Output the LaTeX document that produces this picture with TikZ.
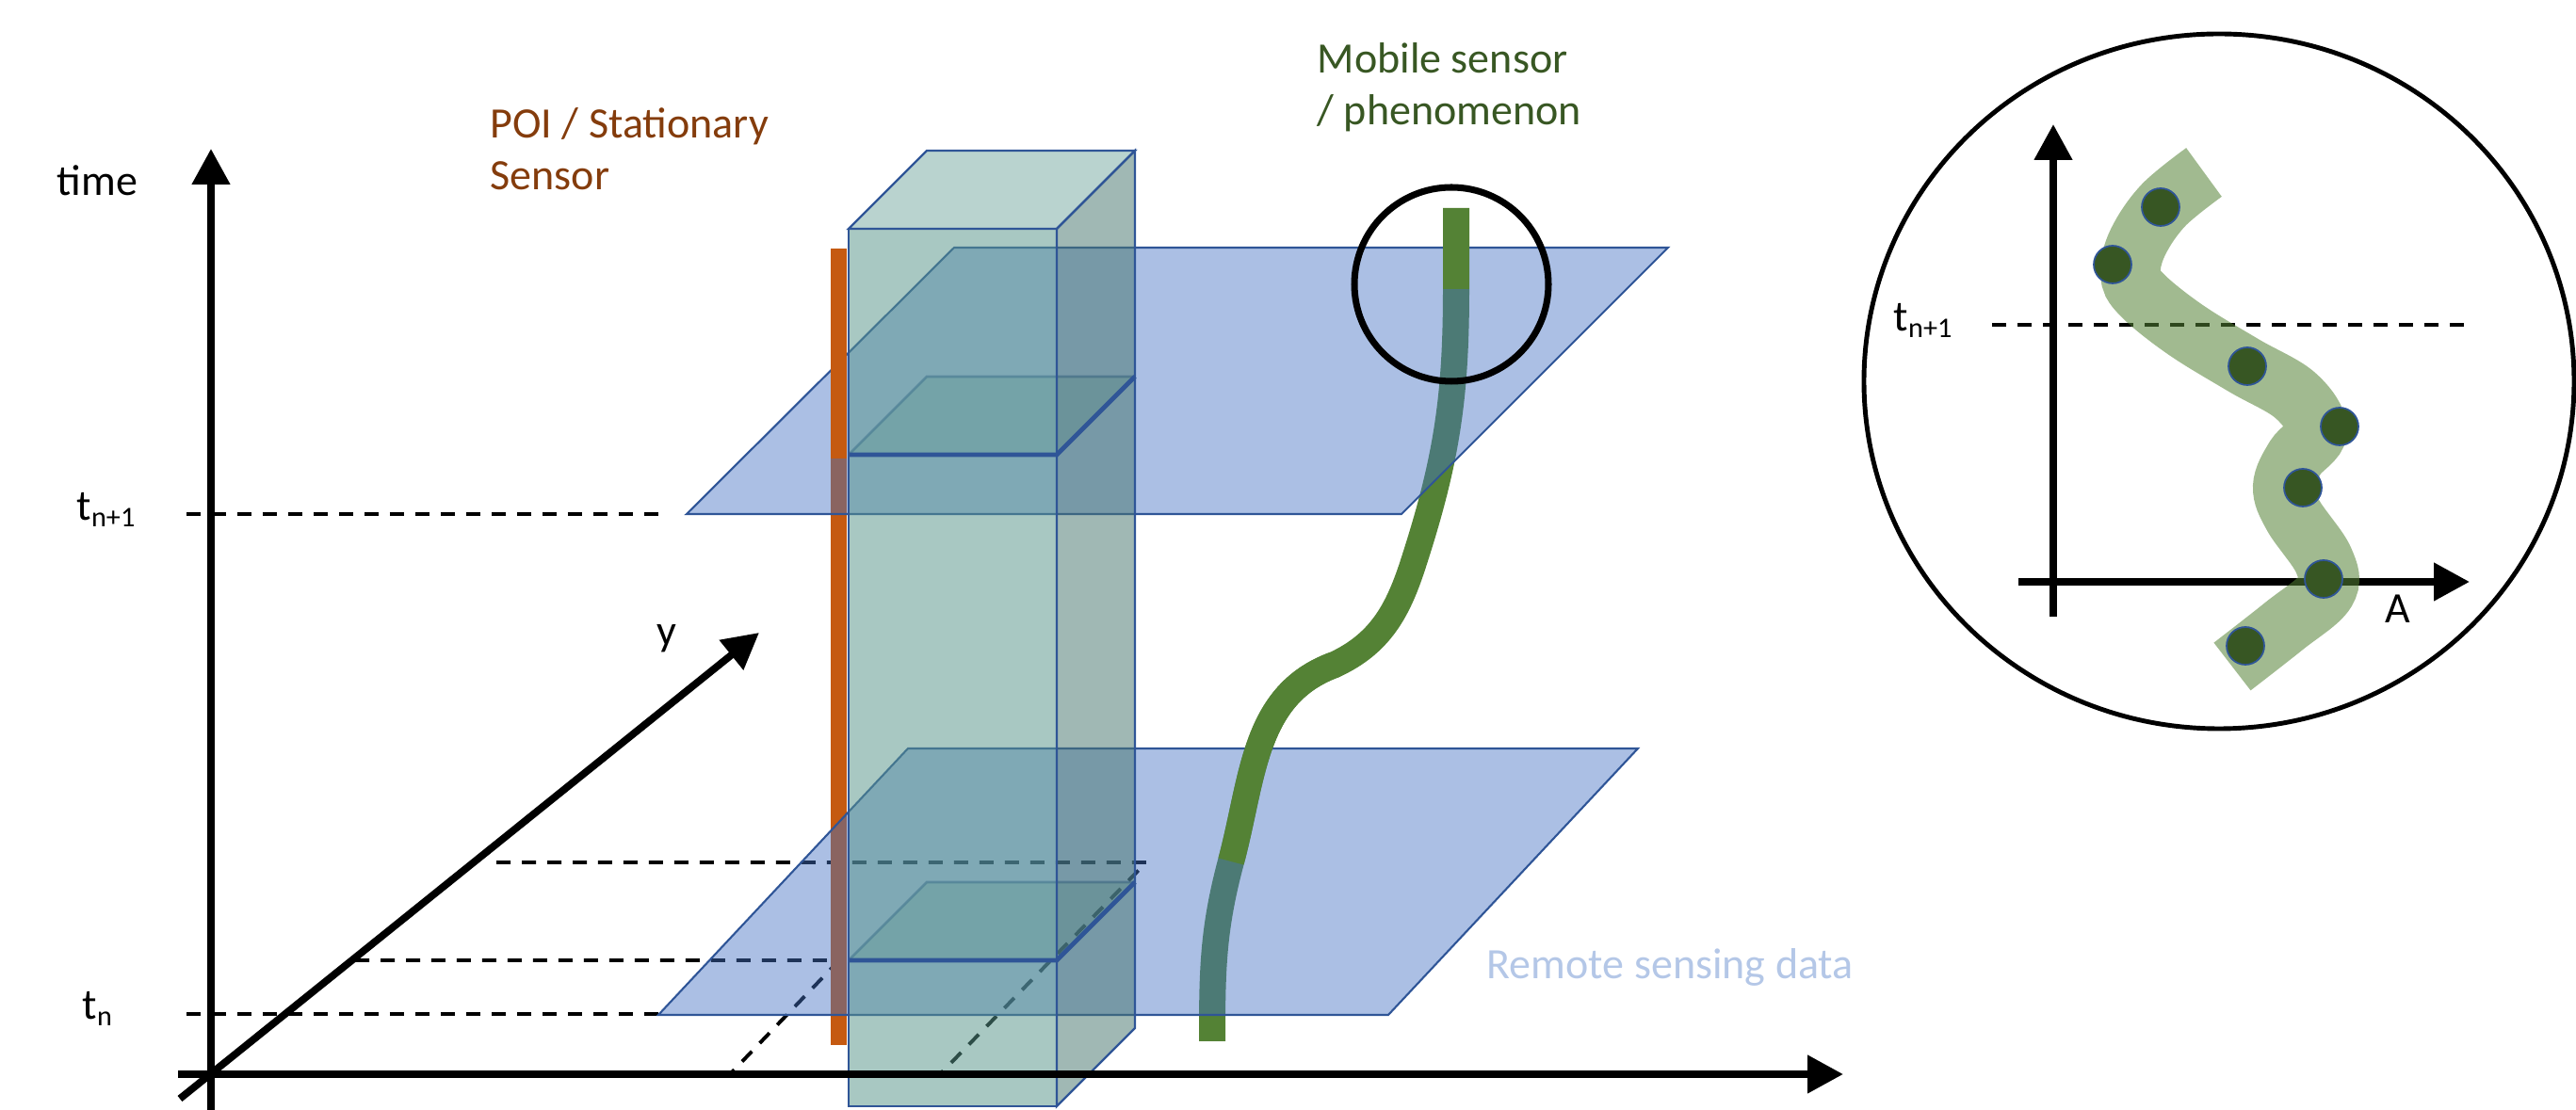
\documentclass[tikz,border=0pt]{standalone}
\usepackage{fontspec}
\setmainfont{Carlito}
\usetikzlibrary{arrows.meta}

\definecolor{planeblue}{HTML}{4472C4}
\definecolor{edgeblue}{HTML}{2F5597}
\definecolor{poiorange}{HTML}{C55A11}
\definecolor{poibrown}{HTML}{843C0C}
\definecolor{mobgreen}{HTML}{548235}
\definecolor{mobdark}{HTML}{385723}
\definecolor{dotgreen}{HTML}{375623}
\definecolor{rsblue}{HTML}{B4C7E7}
\definecolor{boxfront}{RGB}{88,149,138}
\definecolor{boxtop}{RGB}{120,170,163}
\definecolor{boxside}{RGB}{72,118,111}

\newcommand{\lowidx}[1]{\raisebox{-1.9pt}{\fontsize{8.6}{9}\selectfont #1}}

\begin{document}
\begin{tikzpicture}[every node/.style={inner sep=0pt, anchor=base west, font=\fontsize{13.1}{15.8}\selectfont},
  axis/.style={line width=2.2pt, -{Triangle[length=0.38cm, width=0.39cm]}},
  guide/.style={line width=1.1pt, dash pattern=on 0.15cm off 0.12cm},
  plane/.style={draw=edgeblue, line width=0.6pt, fill=planeblue, fill opacity=0.45},
  face/.style={draw=edgeblue, line width=0.7pt, fill opacity=0.52},
  cut/.style={fill=boxfront, fill opacity=0.3},
  track/.style={line width=0.28cm, mobgreen},
  pole/.style={fill=poiorange},
  band/.style={line width=0.64cm, mobgreen, opacity=0.55},
  dot/.style={circle, anchor=center, fill=dotgreen, draw=edgeblue, line width=0.5pt, minimum size=0.4cm}]
\useasboundingbox (0,0) rectangle (27.35,-11.79);

% axes points
\coordinate (tbot) at (2.24,-11.79);
\coordinate (ttop) at (2.24,-1.58);
\coordinate (ybot) at (1.91,-11.67);
\coordinate (ytip) at (8.06,-6.72);
\coordinate (xbot) at (1.89,-11.41);
\coordinate (xtip) at (19.57,-11.41);

% mobile sensor track
\coordinate (c0) at (12.87,-11.06);
\coordinate (c1) at (13.07,-9.15);
\coordinate (c2) at (14.17,-7.06);
\coordinate (c3) at (15.00,-6.00);
\coordinate (c4) at (15.46,-3.07);
\coordinate (c5) at (15.46,-2.21);

% dashed reference lines
\draw[guide] (1.98,-5.46) -- (7.06,-5.46);
\draw[guide] (1.98,-10.77) -- (6.99,-10.77);
\draw[guide] (3.77,-10.20) -- (8.91,-10.20) -- (7.75,-11.41);
\draw[guide] (5.27,-9.16) -- (12.17,-9.16) -- (9.98,-11.41);

\draw[axis] (tbot) -- (ttop);
\draw[axis] (ybot) -- (ytip);

% POI pole and track, behind the planes
\fill[pole] (8.82,-2.64) rectangle (8.99,-11.10);
\draw[track] (c0) to[out=90,in=-105] (c1) to[out=75,in=200] (c2)
  to[out=25,in=-108] (c3) to[out=72,in=-90] (c4) -- (c5);

% time slices
\draw[plane] (7.29,-5.46) -- (14.88,-5.46) -- (17.71,-2.63) -- (10.13,-2.63) -- cycle;
\draw[plane] (6.99,-10.78) -- (14.74,-10.78) -- (17.39,-7.95) -- (9.64,-7.95) -- cycle;

% parts in front of the planes
\fill[pole] (8.82,-2.64) rectangle (8.99,-4.87);
\draw[track] (c1) to[out=75,in=200] (c2);
\draw[track] (c4) -- (c5);

% cross sections of the box
\fill[cut] (9.01,-4.83) -- ++(0.83,0.83) -- ++(2.21,0) -- (11.22,-4.83) -- cycle;
\fill[cut] (9.01,-10.20) -- ++(0.83,0.83) -- ++(2.21,0) -- (11.22,-10.20) -- cycle;
\draw[edgeblue, line width=0.8pt, draw opacity=0.6] (9.01,-4.83) -- ++(0.83,0.83) -- ++(2.21,0);
\draw[edgeblue, line width=0.8pt, draw opacity=0.6] (9.01,-10.20) -- ++(0.83,0.83) -- ++(2.21,0);

% remote sensing box
\draw[face, fill=boxfront] (9.01,-11.75) rectangle (11.22,-2.43);
\draw[face, fill=boxtop] (9.01,-2.43) -- ++(0.83,0.83) -- ++(2.21,0) -- (11.22,-2.43) -- cycle;
\draw[face, fill=boxside] (11.22,-2.43) -- ++(0.83,0.83) -- ++(0,-9.32) -- (11.22,-11.75) -- cycle;

\draw[edgeblue, line width=1.4pt] (9.01,-4.83) -- (11.22,-4.83) -- ++(0.83,0.83);
\draw[edgeblue, line width=1.4pt] (9.01,-10.20) -- (11.22,-10.20) -- ++(0.83,0.83);

\draw[axis] (xbot) -- (xtip);

\draw[line width=2pt] (15.41,-3.02) circle (1.03);

% labels (base = last line)
\node (time) at (0.60,-2.08) {time};
\node (tn1) at (0.81,-5.53) {t\lowidx{n+1}};
\node (tn) at (0.87,-10.83) {t\lowidx{n}};
\node (ylab) at (6.97,-6.86) {y};
\node[text=poibrown, align=left] (poi) at (5.20,-2.02) {POI / Stationary\\Sensor};
\node[text=mobdark, align=left] (mob) at (13.98,-1.33) {Mobile sensor\\/ phenomenon};
\node[text=rsblue] (rs) at (15.78,-10.40) {Remote sensing data};

% zoomed view
\draw[line width=1.4pt] (23.56,-4.05) ellipse (3.77 and 3.69);
\draw[guide, line width=0.9pt] (21.15,-3.45) -- (26.22,-3.45);
\draw[axis] (21.80,-6.55) -- (21.80,-1.32);
\draw[axis] (21.43,-6.18) -- (26.22,-6.18);
\draw[band] plot[smooth, tension=0.6] coordinates {(23.40,-1.83) (22.97,-2.18) (22.70,-2.57)
  (22.62,-2.90) (22.74,-3.13) (23.20,-3.50) (23.82,-3.88) (24.37,-4.20) (24.60,-4.57)
  (24.37,-4.86) (24.24,-5.17) (24.35,-5.48) (24.67,-5.95) (24.69,-6.28) (24.25,-6.65) (23.70,-7.08)};
\node[dot] (d1) at (22.94,-2.20) {};
\node[dot] (d2) at (22.43,-2.81) {};
\node[dot] (d3) at (23.86,-3.89) {};
\node[dot] (d4) at (24.84,-4.53) {};
\node[dot] (d5) at (24.45,-5.18) {};
\node[dot] (d6) at (24.67,-6.15) {};
\node[dot] (d7) at (23.84,-6.86) {};
\node (tn1b) at (20.10,-3.52) {t\lowidx{n+1}};
\node (alab) at (25.32,-6.62) {A};
\end{tikzpicture}
\end{document}
